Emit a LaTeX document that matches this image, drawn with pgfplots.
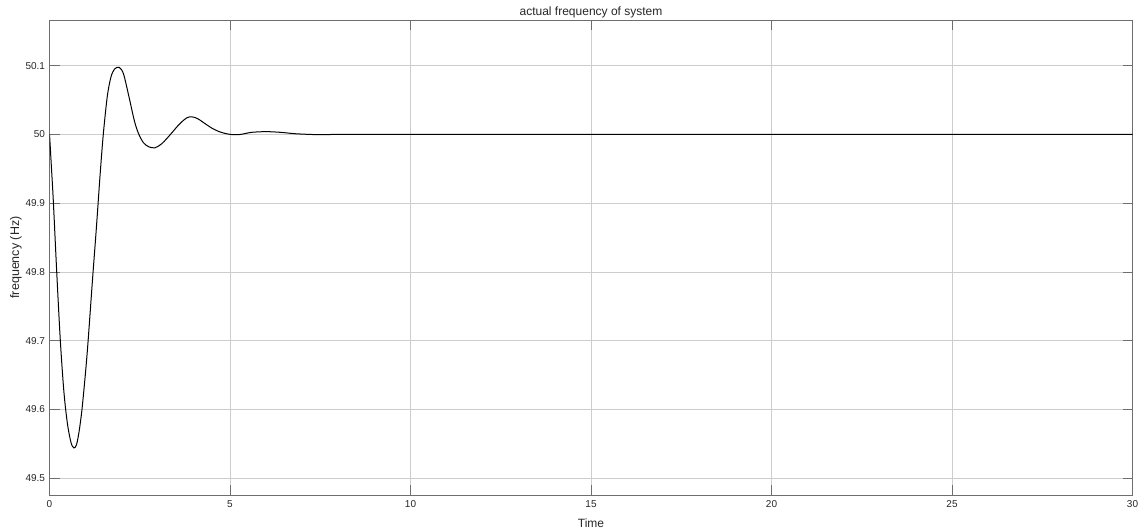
\documentclass[border=0pt]{standalone}
\usepackage{fontspec}
\setmainfont{Liberation Sans}
\usepackage{pgfplots}
\pgfplotsset{compat=1.18}
\definecolor{gridc}{RGB}{205,205,205}
\definecolor{axc}{RGB}{110,110,110}
\definecolor{txtc}{RGB}{38,38,38}
\begin{document}
\begin{tikzpicture}
\begin{axis}[
  name=ax,
  scale only axis,
  width=1083pt, height=475pt,
  xmin=0, xmax=30, ymin=49.4755, ymax=50.1664,
  xtick={0,5,...,30},
  ytick={49.5,49.6,49.7,49.8,49.9,50,50.1},
  yticklabels={49.5,49.6,49.7,49.8,49.9,50,50.1},
  grid=major,
  major grid style={gridc, line width=0.8pt},
  axis line style={axc, line width=0.8pt},
  tick style={axc, line width=0.8pt},
  tick align=inside,
  major tick length=10pt,
  every tick label/.append style={font=\fontsize{10}{12}\selectfont, text=txtc},
  /pgf/number format/assume math mode=true,
  xticklabel style={yshift=-2pt},
  yticklabel style={xshift=-1pt},
  title={actual frequency of system},
  title style={font=\fontsize{12}{14}\selectfont, text=txtc, yshift=-8pt},
  xlabel={Time},
  ylabel={frequency (Hz)},
  xlabel style={font=\fontsize{12}{14}\selectfont, text=txtc, yshift=-4pt},
  ylabel style={font=\fontsize{12.5}{14}\selectfont, text=txtc, yshift=-3pt},
  clip=true,
]
\addplot[black, line width=1.0pt, smooth, tension=0.5] coordinates {
(0,50.000) (0.01,49.992) (0.05,49.955) (0.105,49.904) (0.2,49.800) (0.3,49.700)
(0.4,49.625) (0.5,49.578) (0.6,49.551) (0.68,49.544) (0.75,49.549) (0.82,49.568)
(0.9,49.600) (1.0,49.655) (1.07,49.700) (1.2,49.795) (1.3,49.865) (1.4,49.940)
(1.49,50.000) (1.6,50.055) (1.7,50.083) (1.8,50.095) (1.93,50.0975) (2.05,50.088)
(2.2,50.055) (2.35,50.020) (2.46,50.002) (2.6,49.988) (2.75,49.982) (2.92,49.9805)
(3.1,49.986) (3.25,49.994) (3.4,50.003) (3.6,50.015) (3.8,50.024) (3.94,50.0256)
(4.1,50.023) (4.3,50.016) (4.5,50.009) (4.7,50.004) (4.9,50.001) (5.1,49.9995)
(5.3,50.000) (5.6,50.003) (6.0,50.004) (6.4,50.003) (6.8,50.001) (7.2,50.000)
(7.6,49.9995) (8.0,50.000) (10,50.000) (15,50.000) (20,50.000) (25,50.000) (30,50.000)
};
\end{axis}
\pgfresetboundingbox
\path[use as bounding box] ([shift={(-49.5pt,-36pt)}]ax.south west) rectangle ([shift={(8.5pt,20pt)}]ax.north east);
\end{tikzpicture}
\end{document}
